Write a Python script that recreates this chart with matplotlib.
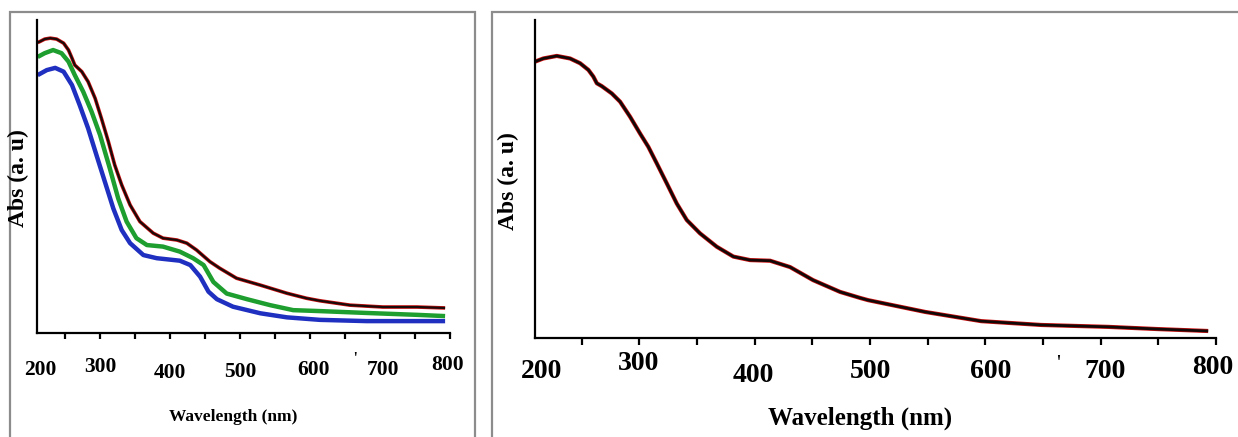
import numpy as np
import matplotlib.pyplot as plt
from matplotlib.patches import Rectangle
from matplotlib.ticker import FixedLocator, MultipleLocator

W, H = 1238, 437
plt.rcParams['font.family'] = ['Liberation Serif', 'DejaVu Serif']

# ---- left panel: three spectra (a.u.)
wl_top = [211, 214, 221, 229, 238, 248, 255, 260, 264, 274, 283, 293, 302,
          312, 321, 331, 343, 357, 376, 390, 410, 424, 438, 457, 471, 495,
          529, 567, 595, 614, 657, 704, 753, 793]
abs_top = [0.928, 0.931, 0.939, 0.942, 0.939, 0.926, 0.904, 0.878, 0.856,
           0.835, 0.803, 0.750, 0.686, 0.611, 0.537, 0.473, 0.409, 0.356,
           0.319, 0.303, 0.297, 0.287, 0.265, 0.228, 0.207, 0.175, 0.153,
           0.127, 0.111, 0.103, 0.089, 0.083, 0.083, 0.080]

wl_green = [211, 221, 233, 245, 255, 264, 276, 288, 300, 314, 326, 338, 352,
            367, 390, 414, 433, 448, 462, 481, 510, 543, 576, 614, 681, 753,
            793]
abs_green = [0.882, 0.894, 0.904, 0.894, 0.867, 0.824, 0.771, 0.707, 0.633,
             0.526, 0.430, 0.356, 0.303, 0.281, 0.276, 0.260, 0.239, 0.217,
             0.163, 0.126, 0.108, 0.089, 0.073, 0.070, 0.064, 0.058, 0.054]

wl_blue = [211, 224, 236, 248, 260, 271, 283, 295, 307, 319, 331, 343, 362,
           381, 414, 429, 443, 455, 467, 490, 529, 567, 614, 681, 793]
abs_blue = [0.824, 0.840, 0.847, 0.835, 0.792, 0.728, 0.654, 0.568, 0.483,
            0.398, 0.329, 0.287, 0.249, 0.239, 0.231, 0.217, 0.180, 0.132,
            0.108, 0.084, 0.063, 0.050, 0.042, 0.038, 0.038]

# ---- right panel: single spectrum
wl_right = [209.5, 216.7, 228.4, 239.9, 248.6, 255.8, 260.1, 263.1, 267.4,
            276.1, 283.3, 291.9, 300.6, 307.8, 315.1, 323.8, 332.4, 341.1,
            352.6, 367.1, 381.5, 396, 413.4, 430.7, 450.6, 474, 491.4, 498.4,
            547.8, 596.4, 648.4, 706.5, 749.9, 793.2]
abs_right = [0.869, 0.879, 0.887, 0.879, 0.864, 0.843, 0.822, 0.801, 0.792,
             0.769, 0.743, 0.696, 0.643, 0.601, 0.549, 0.486, 0.423, 0.371,
             0.329, 0.287, 0.256, 0.245, 0.243, 0.223, 0.182, 0.145, 0.126,
             0.119, 0.082, 0.053, 0.041, 0.035, 0.028, 0.022]

ticks = [200, 300, 400, 500, 600, 700, 800]
tick_labels = ['200', '300', '400', '500', '600', '700', '800']


def px_box(x0, y0, x1, y1):
    return [x0 / W, 1 - y1 / H, (x1 - x0) / W, (y1 - y0) / H]


def setup_axes(ax, xmin, tick_len):
    ax.set_xlim(xmin, 800)
    ax.set_ylim(0, 1)
    for s in ['top', 'right']:
        ax.spines[s].set_visible(False)
    for s in ['left', 'bottom']:
        ax.spines[s].set_linewidth(1.6)
    ax.xaxis.set_major_locator(FixedLocator(ticks))
    ax.xaxis.set_minor_locator(MultipleLocator(50))
    ax.tick_params(axis='x', which='both', direction='out', length=tick_len,
                   width=1.6, labelbottom=False)
    ax.set_yticks([])


def tick_text(ax, dx, dy, size):
    # the scanned labels sit a bit unevenly under their ticks
    for t, lab, ox, oy in zip(ticks, tick_labels, dx, dy):
        ax.annotate(lab, xy=(t, 0), xycoords=ax.get_xaxis_transform(),
                    xytext=(ox * 0.72, -oy * 0.72), textcoords='offset points',
                    ha='center', va='center', fontsize=size, fontweight='bold',
                    annotation_clip=False)


fig = plt.figure(figsize=(W / 100, H / 100), dpi=100)

# grey frames around each panel
fig.patches.append(Rectangle((10 / W, -0.05), 465 / W, 1.05 - 12 / H,
                             transform=fig.transFigure, fill=False,
                             edgecolor='#8c8c8c', linewidth=1.6))
fig.patches.append(Rectangle((492 / W, -0.05), 0.7, 1.05 - 12 / H,
                             transform=fig.transFigure, fill=False,
                             edgecolor='#8c8c8c', linewidth=1.6))

line_kw = dict(solid_joinstyle='round', solid_capstyle='butt')

ax1 = fig.add_axes(px_box(37, 20, 450, 333))
setup_axes(ax1, 210, 4)
ax1.plot(wl_blue, abs_blue, color='#1f2fc0', lw=3.2, **line_kw)
ax1.plot(wl_green, abs_green, color='#1d9e2e', lw=3.2, **line_kw)
ax1.plot(wl_top, abs_top, color='#d01010', lw=2.6, **line_kw)
ax1.plot(wl_top, abs_top, color='#1a0a0a', lw=1.6, **line_kw)
tick_text(ax1, [10, 0, 0, 0, 3, 3, -2], [37, 34, 40, 39, 37, 37, 32], 15.5)
ax1.annotate("'", xy=(664, 0), xycoords=ax1.get_xaxis_transform(),
             xytext=(0, -27 * 0.72), textcoords='offset points',
             ha='center', va='center', fontsize=14, annotation_clip=False)

ax2 = fig.add_axes(px_box(535, 20, 1216, 338))
setup_axes(ax2, 209.5, 5)
ax2.plot(wl_right, abs_right, color='#d01010', lw=3.0, **line_kw)
ax2.plot(wl_right, abs_right, color='#120808', lw=2.0, **line_kw)
tick_text(ax2, [18, -1, -1, 0, 5, 4, -3], [33, 25, 37, 34, 33, 33, 29], 20)
ax2.annotate("'", xy=(663, 0), xycoords=ax2.get_xaxis_transform(),
             xytext=(0, -27 * 0.72), textcoords='offset points',
             ha='center', va='center', fontsize=16, annotation_clip=False)

# axis titles
fig.text(233 / W, 1 - 417 / H, 'Wavelength (nm)', ha='center', va='center',
         fontsize=12.5, fontweight='bold')
fig.text(18 / W, 1 - 178 / H, 'Abs (a. u)', ha='center', va='center',
         rotation=90, fontsize=17, fontweight='bold')
fig.text(860 / W, 1 - 418 / H, 'Wavelength (nm)', ha='center', va='center',
         fontsize=18, fontweight='bold')
fig.text(508 / W, 1 - 181 / H, 'Abs (a. u)', ha='center', va='center',
         rotation=90, fontsize=17, fontweight='bold')

fig.savefig('out.png', dpi=100)
